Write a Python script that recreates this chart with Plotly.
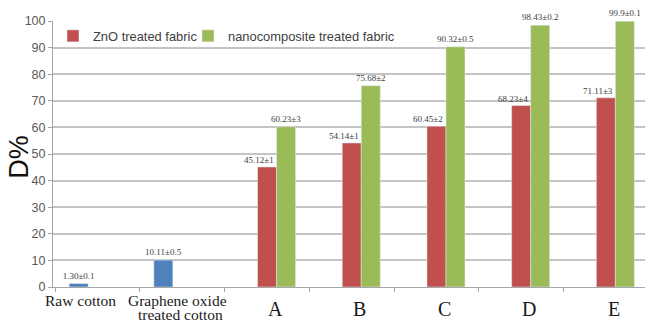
import plotly.graph_objects as go

# Categories along the x axis
categories = ["Raw cotton", "Graphene oxide treated cotton", "A", "B", "C", "D", "E"]
category_lines = [
    ["Raw cotton"],
    ["Graphene oxide", "treated cotton"],
    ["A"], ["B"], ["C"], ["D"], ["E"],
]

# Control samples (untreated / GO-treated cotton)
control_values = [1.30, 10.11, None, None, None, None, None]
control_labels = ["1.30±0.1", "10.11±0.5", "", "", "", "", ""]

# ZnO treated fabric
zno_values = [None, None, 45.12, 54.14, 60.45, 68.23, 71.11]
zno_labels = ["", "", "45.12±1", "54.14±1", "60.45±2", "68.23±4", "71.11±3"]

# Nanocomposite treated fabric
nano_values = [None, None, 60.23, 75.68, 90.32, 98.43, 99.9]
nano_labels = ["", "", "60.23±3", "75.68±2", "90.32±0.5", "98.43±0.2", "99.9±0.1"]

y_ticks = list(range(0, 101, 10))

BLUE = "#4f81bd"
RED = "#c0504d"
GREEN = "#9bbb59"
VALUE_FONT = dict(family="Liberation Serif", size=9, color="#404040")
LEGEND_FONT = dict(family="Liberation Sans", size=12.9, color="#404040")

fig = go.Figure()
fig.add_trace(go.Bar(
    x=categories, y=control_values, marker_color=BLUE, showlegend=False,
    text=control_labels, textposition="outside", textfont=VALUE_FONT,
    cliponaxis=False, constraintext="none", name="control",
))
fig.add_trace(go.Bar(
    x=categories, y=zno_values, marker_color=RED, name="ZnO treated fabric",
    cliponaxis=False, legend="legend",
))
fig.add_trace(go.Bar(
    x=categories, y=nano_values, marker_color=GREEN,
    name="nanocomposite treated fabric",
    text=nano_labels, textposition="outside", textfont=VALUE_FONT,
    cliponaxis=False, constraintext="none", legend="legend2",
))

# ZnO value labels sit just left of the neighbouring green bar
for cat, val, lab in zip(categories, zno_values, zno_labels):
    if val is None:
        continue
    fig.add_annotation(
        x=cat, y=val, text=lab, showarrow=False, xanchor="right",
        yanchor="bottom", xshift=9, yshift=0, font=VALUE_FONT,
    )

# Category names under the axis: the control names are set smaller (lines
# stacked tightly) and nudged left, the sample letters larger and nudged right
for i, (cat, lines) in enumerate(zip(categories, category_lines)):
    is_letter = i >= 2
    for k, line in enumerate(lines):
        if is_letter:
            size, dx, dy = 20, 8, -9
        else:
            size = 15.5
            dx = -17.5 if i == 0 else (-4.5 if k == 0 else -1.5)
            dy = -3 - 14 * k
        fig.add_annotation(
            x=cat, y=0, yref="y", text=line, showarrow=False,
            xanchor="center", yanchor="top", xshift=dx, yshift=dy,
            font=dict(family="Liberation Serif", size=size, color="#1a1a1a"),
        )

# Y-axis title
fig.add_annotation(
    xref="paper", yref="paper", x=-0.0574, y=0.49, text="D%", textangle=-90,
    showarrow=False, xanchor="center", yanchor="middle",
    font=dict(family="Liberation Sans", size=27, color="#111111"),
)

fig.update_layout(
    width=645, height=323,
    margin=dict(l=53, r=0, t=21, b=36, autoexpand=False),
    paper_bgcolor="white", plot_bgcolor="white",
    barmode="group", bargap=0.327, bargroupgap=0,
    legend=dict(
        orientation="h", x=0, y=1.0, xanchor="left", yanchor="top",
        font=LEGEND_FONT, bgcolor="rgba(0,0,0,0)",
    ),
    legend2=dict(
        orientation="h", x=0.228, y=1.0, xanchor="left", yanchor="top",
        font=LEGEND_FONT, bgcolor="rgba(0,0,0,0)",
    ),
    xaxis=dict(
        categoryorder="array", categoryarray=categories,
        showticklabels=False,
        range=[-0.527, 6.462], automargin=False,
        showline=True, linecolor="#a6a6a6", linewidth=1,
        ticks="outside", tickson="boundaries", ticklen=4, tickcolor="#a6a6a6",
        showgrid=False,
    ),
    yaxis=dict(
        range=[0, 100], tickvals=y_ticks, automargin=False,
        showline=True, linecolor="#a6a6a6", linewidth=1,
        ticks="outside", ticklen=4, tickcolor="#a6a6a6",
        tickfont=dict(family="Liberation Sans", size=12.5, color="#595959"),
        showgrid=True, gridcolor="#c4c4c4", gridwidth=1.5,
        zeroline=False,
    ),
)

fig.write_html("out.html")
